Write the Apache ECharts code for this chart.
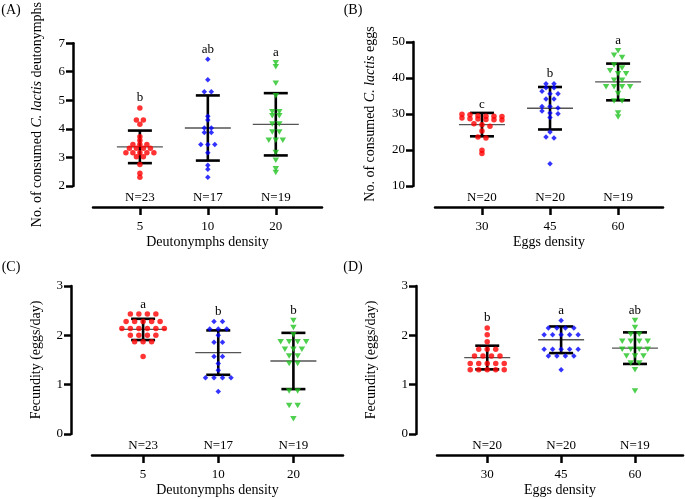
<!DOCTYPE html>
<html><head><meta charset="utf-8">
<script src="https://cdn.jsdelivr.net/npm/echarts@6/dist/echarts.min.js"></script>
<style>html,body{margin:0;padding:0;background:#fff}#c{width:685px;height:499px}</style>
</head><body><div id="c"></div>
<script>
const FONT = '"Liberation Serif", "Times New Roman", serif';

// ---------- data ----------
const catsA = ['5', '10', '20'];
const catsB = ['30', '45', '60'];
const catsC = ['5', '10', '20'];
const catsD = ['30', '45', '60'];

const nA = [23, 17, 19];
const nB = [20, 20, 19];
const nC = [23, 17, 19];
const nD = [20, 20, 19];

const lettersA = ['b', 'ab', 'a'];
const lettersB = ['c', 'b', 'a'];
const lettersC = ['a', 'b', 'b'];
const lettersD = ['b', 'a', 'ab'];

const yTicksA = [2, 3, 4, 5, 6, 7];
const yTicksB = [10, 20, 30, 40, 50];
const yTicksC = [0, 1, 2, 3];
const yTicksD = [0, 1, 2, 3];

// (A) consumed deutonymphs
const a5 = [4.73, 4.31, 4.31, 4.16, 3.72, 3.59, 3.45, 3.45, 3.45, 3.32, 3.32, 3.32, 3.32, 3.16, 3.16, 3.16, 3.16, 3.16, 3.02, 3.02, 2.75, 2.45, 2.31];
const a10 = [6.44, 5.72, 5.30, 5.30, 4.44, 4.31, 4.03, 4.03, 3.875, 3.875, 3.45, 3.45, 3.45, 3.16, 2.73, 2.59, 2.31];
const a20 = [6.31, 6.17, 5.60, 5.16, 4.60, 4.60, 4.46, 4.46, 4.17, 4.17, 3.89, 3.89, 3.60, 3.60, 3.60, 3.17, 2.90, 2.60, 2.47];
const meanA = [3.37, 4.03, 4.16];
const sdA = [0.57, 1.14, 1.09];

// (B) consumed eggs
const b30 = [29.9, 29.8, 29.5, 29.4, 29.4, 29.3, 28.9, 28.7, 28.6, 28.5, 28.4, 28.3, 27.3, 27.0, 26.6, 25.3, 23.6, 23.3, 19.9, 19.0];
const b45 = [38.4, 38.4, 37.3, 37.3, 36.3, 35.6, 35.6, 34.2, 34.2, 32.1, 32.1, 31.7, 30.8, 30.3, 30.1, 29.0, 25.0, 23.6, 23.3, 16.2];
const b60 = [47.6, 46.3, 45.7, 43.6, 42.8, 42.0, 41.2, 41.2, 39.4, 39.4, 37.6, 37.6, 37.6, 37.6, 35.7, 33.6, 33.6, 30.3, 29.2];
const meanB = [27.05, 31.6, 38.9];
const sdB = [3.25, 5.9, 5.1];

// (C) fecundity vs deutonymph density
const c5 = [2.43, 2.43, 2.43, 2.43, 2.28, 2.28, 2.28, 2.28, 2.28, 2.14, 2.14, 2.14, 2.14, 2.14, 2.14, 2.00, 2.00, 2.00, 2.00, 1.87, 1.87, 1.87, 1.57];
const c10 = [2.28, 2.28, 2.13, 2.13, 2.13, 2.00, 1.86, 1.86, 1.57, 1.57, 1.43, 1.29, 1.14, 1.14, 1.14, 1.14, 0.86];
const c20 = [2.30, 2.16, 2.01, 1.87, 1.87, 1.87, 1.87, 1.72, 1.72, 1.72, 1.58, 1.58, 1.43, 1.43, 0.87, 0.87, 0.58, 0.58, 0.31];
const meanC = [2.12, 1.65, 1.48];
const sdC = [0.215, 0.45, 0.57];

// (D) fecundity vs egg density
const d30 = [2.15, 2.01, 1.87, 1.72, 1.72, 1.72, 1.58, 1.58, 1.58, 1.58, 1.43, 1.43, 1.43, 1.43, 1.43, 1.30, 1.30, 1.30, 1.30, 1.30];
const d45 = [2.30, 2.15, 2.15, 2.15, 2.15, 2.01, 2.01, 2.01, 2.01, 2.01, 1.72, 1.72, 1.72, 1.72, 1.72, 1.58, 1.58, 1.58, 1.58, 1.30];
const d60 = [2.30, 2.16, 2.02, 2.02, 1.88, 1.88, 1.88, 1.88, 1.72, 1.72, 1.72, 1.72, 1.58, 1.58, 1.58, 1.44, 1.44, 1.30, 0.87];
const meanD = [1.55, 1.91, 1.74];
const sdD = [0.24, 0.27, 0.32];

// ---------- layout / style ----------
const W = 685, H = 499;
const COLORS = ['#ff0000', '#0000ff', '#22c322'];
const panels = [
  { tag: '(A)', tagX: 11, tagY: 10, cats: catsA, n: nA, letters: lettersA, yt: yTicksA, groups: [a5, a10, a20], mean: meanA, sd: sdA,
    xName: 'Deutonymphs density', yName: '{n|No. of consumed }{i|C. lactis}{n| deutonymphs}',
    L: { left: 93, right: 363, top: 34, bottom: 313, yOff: 20, xmin: -0.69, xmax: 2.68, yGap: 29, step: 7 } },
  { tag: '(B)', tagX: 353, tagY: 10, cats: catsB, n: nB, letters: lettersB, yt: yTicksB, groups: [b30, b45, b60], mean: meanB, sd: sdB,
    xName: 'Eggs density', yName: '{n|No. of consumed }{i|C. lactis}{n| eggs}',
    L: { left: 435, right: 22, top: 42, bottom: 313, yOff: 22, xmin: -0.69, xmax: 2.66, yGap: 36, step: 8 } },
  { tag: '(C)', tagX: 11, tagY: 267, cats: catsC, n: nC, letters: lettersC, yt: yTicksC, groups: [c5, c10, c20], mean: meanC, sd: sdC,
    xName: 'Deutonymphs density', yName: 'Fecundity (eggs/day)',
    L: { left: 92, right: 342, top: 286, bottom: 65, yOff: 21, xmin: -0.68, xmax: 2.66, yGap: 28, step: 8.5 } },
  { tag: '(D)', tagX: 353, tagY: 267, cats: catsD, n: nD, letters: lettersD, yt: yTicksD, groups: [d30, d45, d60], mean: meanD, sd: sdD,
    xName: 'Eggs density', yName: 'Fecundity (eggs/day)',
    L: { left: 437, right: 2, top: 286, bottom: 65, yOff: 21, xmin: -0.68, xmax: 2.65, yGap: 38, step: 8.5 } }
];

function swarm(vals, ci, L, ymin, ymax) {
  const ppx = (W - L.left - L.right) / (L.xmax - L.xmin);
  const ppy = (H - L.top - L.bottom) / (ymax - ymin);
  const sorted = vals.slice().sort((a, b) => b - a);
  const rows = [];
  sorted.forEach(v => {
    const r = rows[rows.length - 1];
    if (r && (r[0] - v) * ppy < 3) r.push(v); else rows.push([v]);
  });
  const pts = [];
  rows.forEach(r => r.forEach((v, k) => pts.push([ci + (k - (r.length - 1) / 2) * L.step / ppx, v])));
  return pts;
}

const grid = [], xAxis = [], yAxis = [], series = [], graphic = [];
const txt = { fontFamily: FONT, color: '#000' };

panels.forEach((p, i) => {
  const L = p.L;
  const ymin = p.yt[0], ymax = p.yt[p.yt.length - 1], yint = p.yt[1] - p.yt[0];
  grid.push({ left: L.left, right: L.right, top: L.top, bottom: L.bottom, containLabel: false });
  xAxis.push({
    gridIndex: i, type: 'value', min: L.xmin, max: L.xmax, offset: 21,
    axisLine: { show: true, onZero: false, lineStyle: { color: '#000', width: 2.5 } },
    axisTick: { show: true, customValues: [0, 1, 2], length: 8, lineStyle: { color: '#000', width: 2.5 } },
    axisLabel: { customValues: [0, 1, 2], formatter: v => p.cats[Math.round(v)], margin: 13, fontSize: 13, ...txt },
    splitLine: { show: false },
    name: p.xName, nameLocation: 'middle', nameGap: 28,
    nameTextStyle: { fontSize: 14, ...txt }
  });
  yAxis.push({
    gridIndex: i, type: 'value', min: ymin, max: ymax, interval: yint, offset: L.yOff,
    axisLine: { show: true, onZero: false, lineStyle: { color: '#000', width: 2.5 } },
    axisTick: { show: true, length: 7, lineStyle: { color: '#000', width: 2.5 } },
    axisLabel: { margin: 8, fontSize: 13, ...txt },
    splitLine: { show: false },
    name: p.yName, nameLocation: 'middle', nameGap: L.yGap,
    nameTextStyle: { fontSize: 14, ...txt,
      rich: { n: { fontSize: 14, fontFamily: FONT, color: '#000' },
              i: { fontSize: 14, fontFamily: FONT, color: '#000', fontStyle: 'italic' } } }
  });
  const shapes = [
    { symbol: 'circle', symbolSize: 5.5, symbolRotate: 0 },
    { symbol: 'diamond', symbolSize: 5.5, symbolRotate: 0 },
    { symbol: 'triangle', symbolSize: [6.5, 5.5], symbolRotate: 180 }
  ];
  // mean, SD bars, letters and N labels
  series.push({
    type: 'custom', xAxisIndex: i, yAxisIndex: i, z: 2, silent: true, clip: false,
    data: p.mean.map((m, k) => [k, m, p.sd[k], Math.max(...p.groups[k])]),
    renderItem: (params, api) => {
      const k = params.dataIndex;
      const x = api.value(0), m = api.value(1), s = api.value(2), mx = api.value(3);
      const pm = api.coord([x, m]), pt = api.coord([x, m + s]), pb = api.coord([x, m - s]);
      const pTop = api.coord([x, mx]), pBot = api.coord([x, ymin]);
      const cap = 12, half = 23;
      return { type: 'group', children: [
        { type: 'line', shape: { x1: pm[0] - half, y1: pm[1], x2: pm[0] + half, y2: pm[1] }, style: { stroke: '#555', lineWidth: 1.3 } },
        { type: 'line', shape: { x1: pt[0], y1: pt[1], x2: pb[0], y2: pb[1] }, style: { stroke: '#000', lineWidth: 2.6 } },
        { type: 'line', shape: { x1: pt[0] - cap, y1: pt[1], x2: pt[0] + cap, y2: pt[1] }, style: { stroke: '#000', lineWidth: 2.6 } },
        { type: 'line', shape: { x1: pb[0] - cap, y1: pb[1], x2: pb[0] + cap, y2: pb[1] }, style: { stroke: '#000', lineWidth: 2.6 } },
        { type: 'text', x: pTop[0], y: pTop[1] - 10, style: { text: p.letters[k], fill: '#000', font: '13px ' + FONT, align: 'center', verticalAlign: 'middle' } },
        { type: 'text', x: pBot[0], y: pBot[1] + 12, style: { text: 'N=' + p.n[k], fill: '#000', font: '13px ' + FONT, align: 'center', verticalAlign: 'middle' } }
      ] };
    }
  });
  p.groups.forEach((g, k) => {
    series.push({
      type: 'scatter', xAxisIndex: i, yAxisIndex: i, z: 3, silent: true,
      data: swarm(g, k, L, ymin, ymax),
      symbol: shapes[k].symbol, symbolSize: shapes[k].symbolSize, symbolRotate: shapes[k].symbolRotate,
      itemStyle: { color: COLORS[k] }
    });
  });
  graphic.push({ type: 'text', x: p.tagX, y: p.tagY, style: { text: p.tag, fill: '#000', font: '14px ' + FONT, align: 'center', verticalAlign: 'middle' } });
});

const chart = echarts.init(document.getElementById('c'), null, { renderer: 'canvas' });
chart.setOption({ animation: false, backgroundColor: '#fff', grid, xAxis, yAxis, series, graphic });
</script>
</body></html>
